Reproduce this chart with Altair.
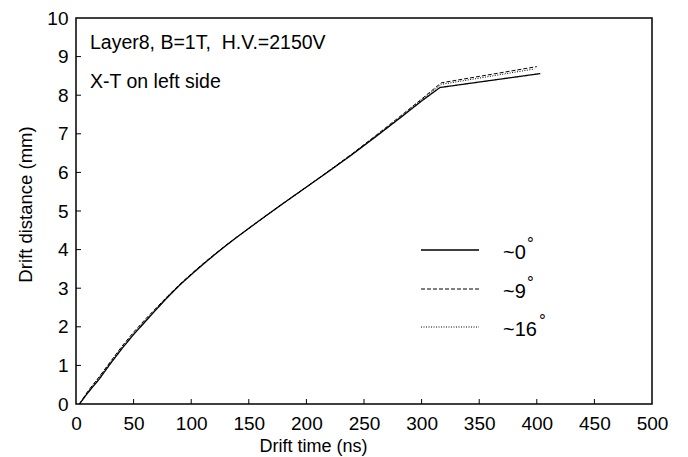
import altair as alt
import pandas as pd

# Drift time (ns) and drift distance (mm) for each angle
t_0 = [3, 10, 20, 30, 40, 50, 60, 70, 80, 90, 100, 110, 120, 130, 140, 150, 160, 180, 200, 220, 240, 260, 280, 300, 316, 403]
d_0 = [0, 0.28, 0.64, 1.05, 1.44, 1.8, 2.13, 2.46, 2.78, 3.08, 3.35, 3.61, 3.86, 4.1, 4.33, 4.55, 4.77, 5.2, 5.62, 6.04, 6.47, 6.92, 7.38, 7.85, 8.2, 8.56]

t_9 = [3, 10, 20, 30, 40, 50, 60, 70, 80, 90, 100, 110, 120, 130, 140, 150, 160, 180, 200, 220, 240, 260, 280, 300, 317, 400]
d_9 = [0, 0.32, 0.7, 1.1, 1.5, 1.86, 2.19, 2.5, 2.81, 3.1, 3.37, 3.63, 3.87, 4.11, 4.33, 4.55, 4.77, 5.2, 5.62, 6.05, 6.49, 6.95, 7.42, 7.9, 8.32, 8.74]

t_16 = [3, 10, 20, 30, 40, 50, 60, 70, 80, 90, 100, 110, 120, 130, 140, 150, 160, 180, 200, 220, 240, 260, 280, 300, 317, 398]
d_16 = [0, 0.3, 0.68, 1.08, 1.47, 1.83, 2.16, 2.48, 2.8, 3.09, 3.36, 3.62, 3.87, 4.1, 4.33, 4.55, 4.77, 5.2, 5.62, 6.05, 6.48, 6.94, 7.4, 7.88, 8.28, 8.68]

series_names = ["~0", "~9", "~16"]
x_ticks = [0, 50, 100, 150, 200, 250, 300, 350, 400, 450, 500]
y_ticks = [0, 1, 2, 3, 4, 5, 6, 7, 8, 9, 10]
annotations = ["Layer8, B=1T,\u00a0 H.V.=2150V", "X-T on left side"]

FONT = "Liberation Sans"
W, H = 576, 386

rows = []
for name, ts, ds in zip(series_names, [t_0, t_9, t_16], [d_0, d_9, d_16]):
    for i, (t, d) in enumerate(zip(ts, ds)):
        rows.append({"series": name, "t": t, "d": d, "order": i})
df = pd.DataFrame(rows)

xs = alt.Scale(domain=[0, 500], nice=False)
ys = alt.Scale(domain=[0, 10], nice=False)

dash_map = {"~0": [1, 0], "~9": [4, 2], "~16": [1, 1.5]}
width_map = {"~0": 1.3, "~9": 1.0, "~16": 1.0}

x_axis = alt.Axis(values=x_ticks, title="Drift time (ns)", grid=False, domain=False,
                  ticks=False, labelPadding=10, labelFontSize=19, labelFont=FONT,
                  labelColor="black", titleFont=FONT, titleFontSize=18,
                  titleFontWeight="normal", titleColor="black",
                  titleX=237, titleY=42, titleBaseline="middle",
                  labelFlush=False, labelOverlap=False)
y_axis = alt.Axis(values=y_ticks, title="Drift distance (mm)", grid=False, domain=False,
                  ticks=False, labelPadding=8, labelFontSize=19, labelFont=FONT,
                  labelColor="black", titleFont=FONT, titleFontSize=18.5,
                  titleFontWeight="normal", titleColor="black",
                  titleX=-51, titleY=186, titleBaseline="middle",
                  titleAngle=-90, titleAlign="center", labelFlush=False,
                  labelOverlap=False)

lines = []
for name in series_names:
    lines.append(
        alt.Chart(df[df.series == name]).mark_line(
            color="black", strokeWidth=width_map[name], strokeDash=dash_map[name]
        ).encode(
            x=alt.X("t:Q", scale=xs, axis=x_axis),
            y=alt.Y("d:Q", scale=ys, axis=y_axis),
            order="order:Q",
        )
    )

# inward ticks
xt = pd.DataFrame({"t": x_ticks[1:-1]})
yt = pd.DataFrame({"d": y_ticks[1:-1]})
xtick = alt.Chart(xt).mark_rule(color="black", strokeWidth=1).encode(
    x=alt.X("t:Q", scale=xs, axis=x_axis), y=alt.value(H), y2=alt.value(H - 5))
ytick = alt.Chart(yt).mark_rule(color="black", strokeWidth=1).encode(
    y=alt.Y("d:Q", scale=ys, axis=y_axis), x=alt.value(0), x2=alt.value(5))

# annotation texts
ann = pd.DataFrame({"txt": annotations, "py": [31, 70]})
ann_text = alt.Chart(ann).mark_text(align="left", baseline="alphabetic", font=FONT,
                                    fontSize=19.5, color="black").encode(
    x=alt.value(14), y=alt.Y("py:Q", scale=None), text="txt:N")

# manual legend
leg = pd.DataFrame({"series": series_names, "py": [232, 271, 309]})
legs = []
for name in series_names:
    sub = leg[leg.series == name]
    legs.append(alt.Chart(sub).mark_rule(color="black", strokeWidth=width_map[name],
                                         strokeDash=dash_map[name]).encode(
        x=alt.value(345), x2=alt.value(403), y=alt.Y("py:Q", scale=None)))
leg["ty"] = leg["py"] + 3
leg_text = alt.Chart(leg).mark_text(align="left", baseline="middle", font=FONT, fontSize=20,
                                    color="black").encode(
    x=alt.value(427), y=alt.Y("ty:Q", scale=None), text="series:N")
leg["deg_x"] = [451, 451, 463]
leg["deg_y"] = leg["py"] - 1
leg_deg = alt.Chart(leg).mark_text(align="left", baseline="alphabetic", font=FONT, fontSize=17,
                                   color="black").encode(
    x=alt.X("deg_x:Q", scale=None), y=alt.Y("deg_y:Q", scale=None), text=alt.value("°"))

chart = alt.layer(*lines, xtick, ytick, ann_text, *legs, leg_text, leg_deg).properties(
    width=W, height=H,
    autosize=alt.AutoSizeParams(type="none"),
    padding={"left": 76, "top": 18, "right": 36, "bottom": 53},
    background="white",
).configure_view(stroke="black", strokeWidth=1.5)

chart.save("out.html", embed_options={"renderer": "svg", "actions": False})
